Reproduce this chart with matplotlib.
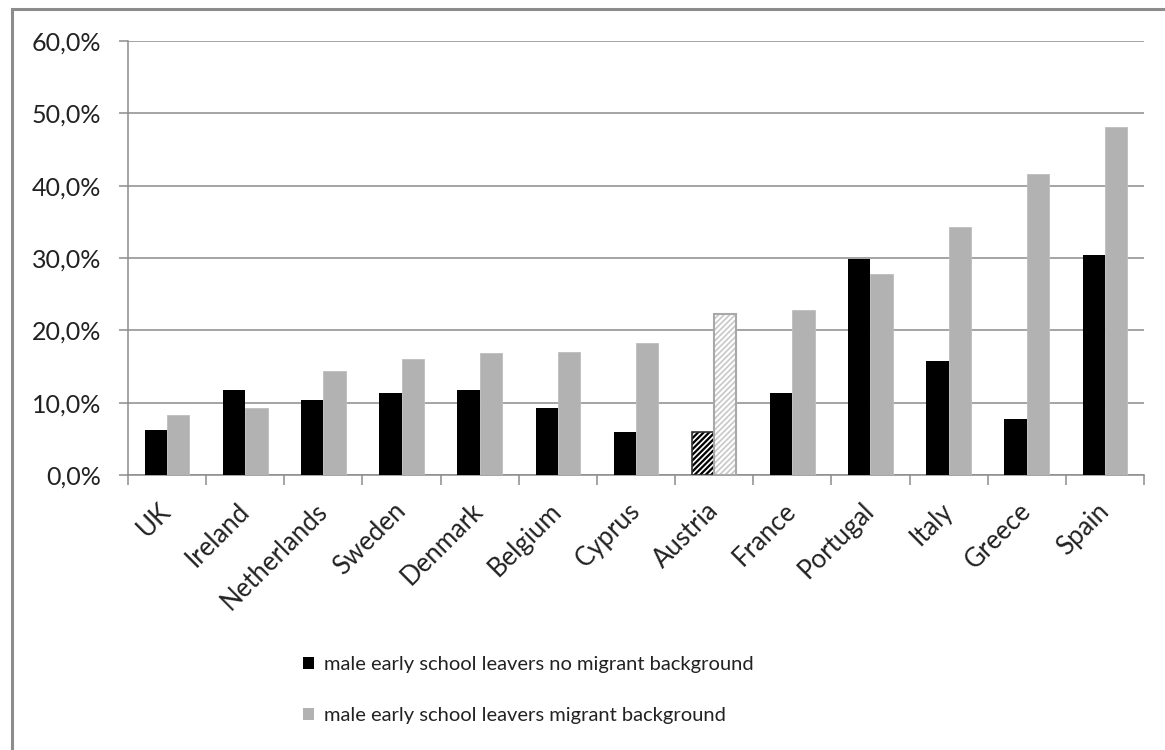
import matplotlib
matplotlib.use("Agg")
import matplotlib.pyplot as plt
import numpy as np
from matplotlib.patches import Rectangle, Patch
from matplotlib.ticker import FuncFormatter

countries = ["UK", "Ireland", "Netherlands", "Sweden", "Denmark", "Belgium", "Cyprus",
             "Austria", "France", "Portugal", "Italy", "Greece", "Spain"]
no_migrant = [6.2, 11.8, 10.3, 11.4, 11.8, 9.3, 5.9, 5.9, 11.3, 29.9, 15.8, 7.8, 30.4]
migrant = [8.3, 9.2, 14.4, 16.0, 16.8, 17.0, 18.2, 22.2, 22.8, 27.8, 34.3, 41.6, 48.1]
hatched = ["Austria"]
label_no = "male early school leavers no migrant background"
label_mig = "male early school leavers migrant background"

plt.rcParams["font.family"] = ["Lato", "DejaVu Sans"]
plt.rcParams["hatch.linewidth"] = 1.2

fig = plt.figure(figsize=(11.65, 7.5), dpi=100)
W, H = 1165, 750
ax = fig.add_axes([128 / W, 1 - 475 / H, (1144 - 128) / W, (475 - 41) / H])

# chart frame (cut off at right/bottom in the original)
fig.add_artist(Rectangle((12 / W, -0.1), 1.2, 1 - 9 / H + 0.1, transform=fig.transFigure,
                         fill=False, edgecolor="#8c8c8c", linewidth=2.2))

x = np.arange(len(countries))
w = 0.285
black = "#000000"
grey = "#b2b2b2"
txt = "#222222"

for i, c in enumerate(countries):
    if c in hatched:
        ax.bar(x[i] - w / 2, no_migrant[i], w, color=black, edgecolor="white", hatch="//////",
               linewidth=0, zorder=3)
        ax.bar(x[i] - w / 2, no_migrant[i], w, fill=False, edgecolor="#333333", linewidth=1.2, zorder=4)
        ax.bar(x[i] + w / 2, migrant[i], w, color="white", edgecolor="#c8c8c8", hatch="//////",
               linewidth=0, zorder=3)
        ax.bar(x[i] + w / 2, migrant[i], w, fill=False, edgecolor="#a8a8a8", linewidth=1.5, zorder=4)
    else:
        ax.bar(x[i] - w / 2, no_migrant[i], w, color=black, zorder=3)
        ax.bar(x[i] + w / 2, migrant[i], w, color=grey, edgecolor="#bdbdbd", linewidth=0.6, zorder=3)

ax.set_xlim(-0.5, len(countries) - 0.5)
ax.set_ylim(0, 60)
ax.set_yticks(np.arange(0, 61, 10))
ax.yaxis.set_major_formatter(FuncFormatter(lambda v, p: f"{v:.1f}%".replace(".", ",")))
ax.grid(axis="y", color="#8c8c8c", linewidth=1.1, zorder=0)

ax.set_xticks(np.arange(-0.5, len(countries), 1))
ax.set_xticklabels([])
ax.set_xticks(x, minor=True)
ax.set_xticklabels(countries, minor=True, rotation=45, ha="right", va="center",
                   rotation_mode="anchor", fontsize=18.5, color=txt)
ax.tick_params(axis="x", which="minor", length=0, pad=23)
ax.tick_params(axis="x", which="major", length=7, color="#8c8c8c", width=1.1)
ax.tick_params(axis="y", length=6.5, color="#8c8c8c", width=1.1, labelsize=18,
               labelcolor=txt, pad=13)

for s in ["top", "right"]:
    ax.spines[s].set_visible(False)
for s in ["left", "bottom"]:
    ax.spines[s].set_color("#8c8c8c")
    ax.spines[s].set_linewidth(1.1)

handles = [Patch(facecolor=black, label=label_no), Patch(facecolor=grey, label=label_mig)]
fig.legend(handles=handles, loc="upper left", bbox_to_anchor=(285 / W, 1 - 638 / H),
           frameon=False, fontsize=14.5, handlelength=0.55, handleheight=0.55,
           handletextpad=0.5, labelspacing=1.68, labelcolor=txt)

fig.savefig("out.png", dpi=100)
